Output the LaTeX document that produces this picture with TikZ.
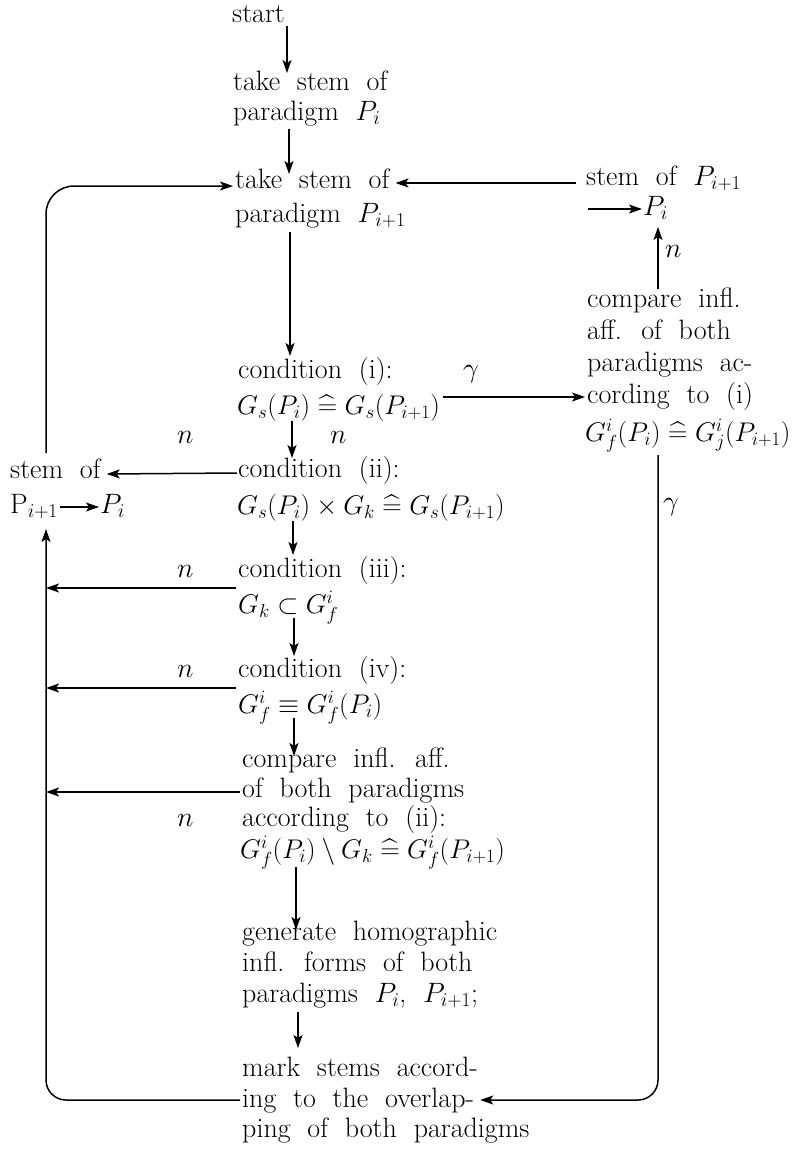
\RequirePackage{fix-cm}
\documentclass[tikz,border=0pt]{standalone}
\usepackage{amsmath,amssymb}
\usetikzlibrary{arrows.meta,calc}
\newcommand{\hq}{\mathrel{\widehat{=}}}
\newcommand{\tfont}{\fontsize{28}{32}\selectfont\spaceskip=0.6em plus 0.1em minus 0.05em\relax}
\newcommand{\mfont}{\fontsize{27}{32}\selectfont}
\begin{document}
\begin{tikzpicture}[x=1pt,y=-1pt,
  txt/.style={inner sep=0pt, anchor=base west, font=\tfont},
  mth/.style={inner sep=0pt, anchor=base west, font=\mfont},
  arr/.style={line width=1.5pt, -{Stealth[length=13pt,width=9pt,inset=3pt]}}]
\useasboundingbox (0,0) rectangle (793,1151);
% spine coordinates
\coordinate (sp1) at (287,0);
\coordinate (sp2) at (289,0);
\coordinate (sp3) at (290,0);
\coordinate (sp4) at (292,0);
\coordinate (sp5) at (293,0);
\coordinate (sp6) at (294,0);
\coordinate (sp7) at (294,0);
\coordinate (sp8) at (296,0);
\coordinate (sp9) at (298,0);
\coordinate (lx) at (46,0);
\coordinate (xr) at (658,0);
\coordinate (fR) at (588,209);
% main column
\node[txt] (start) at (232,22) {start};
\node[txt] (take1a) at (233,90) {take stem of};
\node[txt] (take1b) at (233,120) {paradigm $P_i$};
\node[txt] (take2a) at (235,188) {take stem of};
\node[txt] (take2b) at (235,222) {paradigm $P_{i+1}$};
\node[txt] (cond1a) at (238,378) {condition (i):};
\node[mth] (cond1b) at (237,414) {$G_s(P_i)\hq G_s(P_{i+1})$};
\node[txt] (cond2a) at (238,477) {condition (ii):};
\node[mth] (cond2b) at (237,514) {$G_s(P_i)\times G_k\hq G_s(P_{i+1})$};
\node[txt] (cond3a) at (238,577) {condition (iii):};
\node[mth] (cond3b) at (238,613) {$G_k\subset G^i_f$};
\node[txt] (cond4a) at (238,677) {condition (iv):};
\node[mth] (cond4b) at (238,713) {$G^i_f\equiv G^i_f(P_i)$};
\node[txt] (compLa) at (242,767) {compare infl. aff.};
\node[txt] (compLb) at (242,797) {of both paradigms};
\node[txt] (compLc) at (242,826) {according to (ii):};
\node[mth] (compLd) at (240,858) {$G^i_f(P_i)\setminus G_k\hq G^i_f(P_{i+1})$};
\node[txt] (genA) at (242,940) {generate homographic};
\node[txt] (genB) at (242,971) {infl. forms of both};
\node[txt] (genC) at (242,1002) {paradigms $P_i$, $P_{i+1}$;};
\node[txt] (markA) at (242,1076) {mark stems accord-};
\node[txt] (markB) at (242,1107) {ing to the overlap-};
\node[txt] (markC) at (242,1137) {ping of both paradigms};
% right column
\node[txt] (stemRa) at (586,185) {stem of $P_{i+1}$};
\node[txt] (PiR) at (643,215) {$P_i$};
\node[txt] (compRa) at (587,307) {compare infl.};
\node[txt] (compRb) at (587,339) {aff. of both};
\node[txt] (compRc) at (587,371) {paradigms ac-};
\node[txt] (compRd) at (587,403) {cording to (i)};
\node[mth] (compRe) at (585,441) {$G^i_f(P_i)\hq G^i_j(P_{i+1})$};
% left column
\node[txt] (stemLa) at (10,478) {stem of};
\node[txt] (PLb) at (10,513) {P$_{i+1}$};
\node[txt] (PLi) at (100,513) {$P_i$};
% labels
\node[txt] (g1) at (463,377) {$\gamma$};
\node[txt] (g2) at (663,510) {$\gamma$};
\node[txt] (nR) at (665,257) {$n$};
\node[txt] (n1) at (177,443) {$n$};
\node[txt] (n2) at (330,443) {$n$};
\node[txt] (n3) at (177,577) {$n$};
\node[txt] (n4) at (177,677) {$n$};
\node[txt] (n5) at (177,826) {$n$};
% vertical spine arrows
\draw[arr] ($(start.base -| sp1)+(0,4)$) -- ($(take1a.base -| sp1)+(0,-17)$);
\draw[arr] ($(take1b.base -| sp2)+(0,9)$) -- ($(take2a.base -| sp2)+(0,-14)$);
\draw[arr] ($(take2b.base -| sp3)+(0,10)$) -- ($(cond1a.base -| sp3)+(0,-22)$);
\draw[arr] ($(cond1b.base -| sp4)+(0,7)$) -- ($(cond2a.base -| sp4)+(0,-19)$);
\draw[arr] ($(cond2b.base -| sp5)+(0,7)$) -- ($(cond3a.base -| sp5)+(0,-22)$);
\draw[arr] ($(cond3b.base -| sp6)+(0,5)$) -- ($(cond4a.base -| sp6)+(0,-21)$);
\draw[arr] ($(cond4b.base -| sp7)+(0,5)$) -- ($(compLa.base -| sp7)+(0,-11)$);
\draw[arr] ($(compLd.base -| sp8)+(0,9)$) -- ($(genA.base -| sp8)+(0,-10)$);
\draw[arr] ($(genC.base -| sp9)+(0,10)$) -- ($(markA.base -| sp9)+(0,-28)$);
% right column arrows
\draw[arr] ($(stemRa.base west |- take2a.base)+(-10,-5)$) -- ($(take2a.base east)+(6,-5)$);
\draw[arr] (fR) -- ($(PiR.base west)+(-1,-6)$);
\draw[arr] ($(compRa.base -| xr)+(0,-18)$) -- ($(PiR.base -| xr)+(0,12)$);
\draw[arr] ($(cond1b.base east |- compRd.base)+(3,-6)$) -- ($(compRd.base west)+(-2,-6)$);
\draw[arr, rounded corners=20pt] ($(compRe.base -| xr)+(0,14)$) -- ($(markB.base -| xr)+(0,-7)$) -- ($(markB.base east)+(6,-7)$);
% left column arrows
\draw[arr] ($(cond2a.base west)+(-1,-4)$) -- ($(stemLa.base east)+(6,-4)$);
\draw[arr] ($(PLb.base east)+(2,-6)$) -- ($(PLi.base west)+(-1,-6)$);
\draw[arr, rounded corners=28pt] ($(stemLa.north -| lx)+(0,-5)$) -- ($(take2a.base west -| lx)+(0,-2)$) -- ($(take2a.base west)+(-2,-2)$);
\draw[arr] ($(cond3a.base west)+(-2,11)$) -- ($(cond3a.base west -| lx)+(0,11)$);
\draw[arr] ($(cond4a.base west)+(-2,11)$) -- ($(cond4a.base west -| lx)+(0,11)$);
\draw[arr] ($(compLb.base west)+(-2,-5)$) -- ($(compLb.base west -| lx)+(0,-5)$);
\draw[arr, rounded corners=20pt] ($(markB.base west)+(-2,-7)$) -- ($(markB.base west -| lx)+(0,-7)$) -- ($(PLb.base -| lx)+(0,16)$);
\end{tikzpicture}
\end{document}
